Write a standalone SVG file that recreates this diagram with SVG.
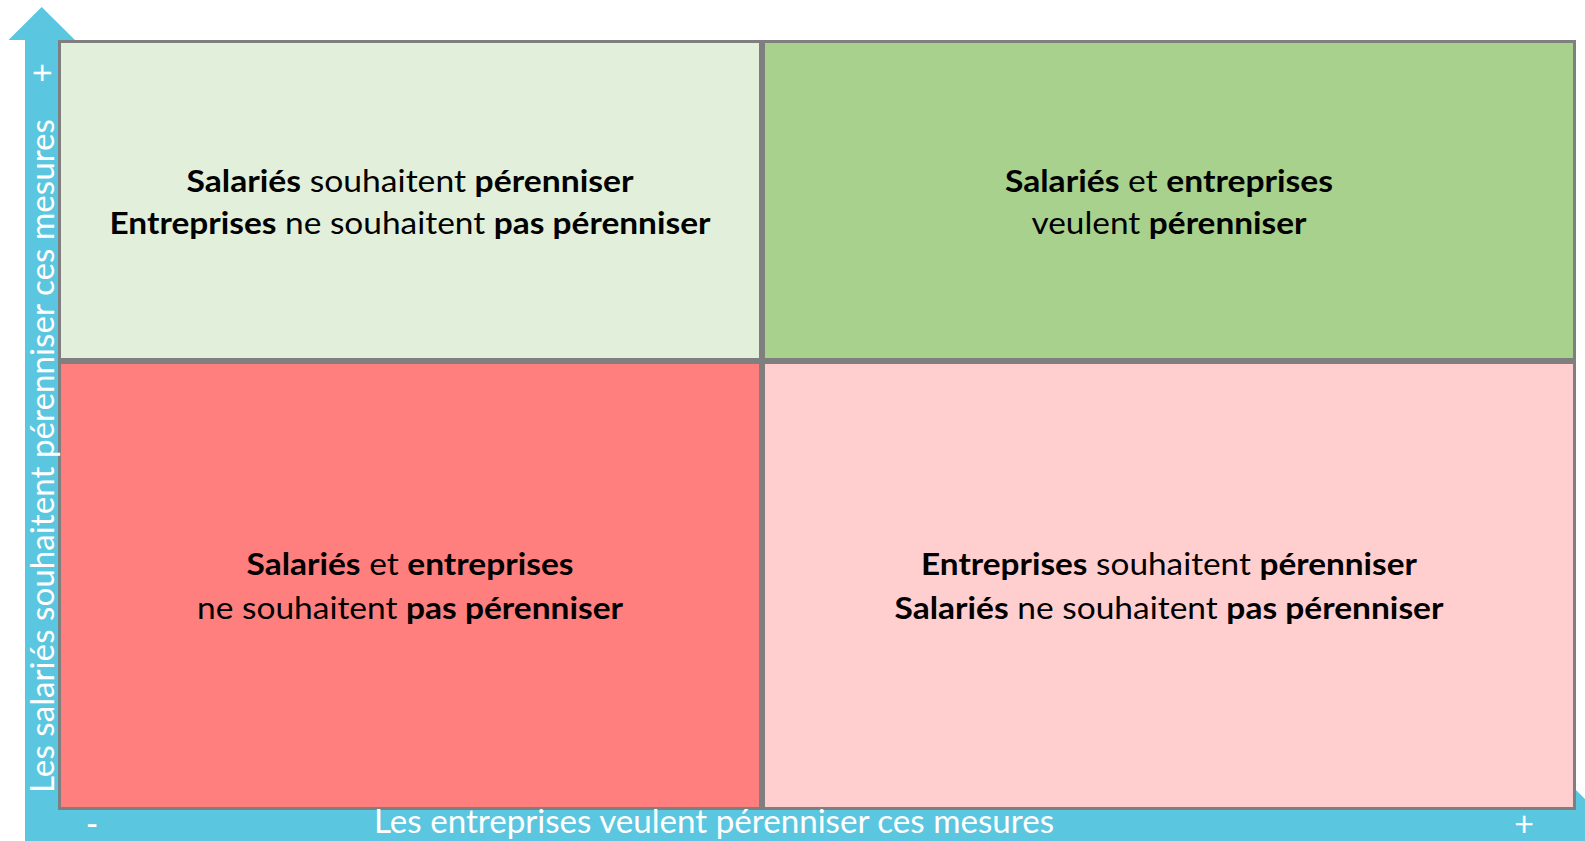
<svg xmlns="http://www.w3.org/2000/svg" width="1585" height="841" viewBox="0 0 1585 841">
<style>
.q{stroke:#7f7f7f;stroke-width:3}
.t{font-family:"Lato","Liberation Sans",sans-serif;font-size:30px;fill:#000;text-anchor:middle}
.b{font-weight:bold}
.ax{font-family:"Lato","Liberation Sans",sans-serif;font-size:32px;fill:#fff;font-weight:normal}
.sg{font-family:"Lato","Liberation Sans",sans-serif;font-size:34px;fill:#fff;text-anchor:middle}
.arr{fill:#5bc6e0}
</style>
<rect width="1585" height="841" fill="#fff"/>
<g id="axes">
<polygon class="arr" points="25,841 25,40 8.5,40 41.7,7 75,40 58,40 58,806 1575,806 1575,789 1608,822 1575,855 1575,841"/>
</g>
<g id="q-tl"><rect class="q" x="59.5" y="41.5" width="701" height="318" fill="#e2efda"/>
<text class="t" x="410" y="192" textLength="447" lengthAdjust="spacingAndGlyphs"><tspan class="b">Salariés</tspan> souhaitent <tspan class="b">pérenniser</tspan></text>
<text class="t" x="410" y="234" textLength="601" lengthAdjust="spacingAndGlyphs"><tspan class="b">Entreprises</tspan> ne souhaitent <tspan class="b">pas pérenniser</tspan></text></g>
<g id="q-tr"><rect class="q" x="763.5" y="41.5" width="811" height="318" fill="#a9d18e"/>
<text class="t" x="1169" y="192" textLength="328" lengthAdjust="spacingAndGlyphs"><tspan class="b">Salariés</tspan> et <tspan class="b">entreprises</tspan></text>
<text class="t" x="1169" y="234" textLength="275" lengthAdjust="spacingAndGlyphs">veulent <tspan class="b">pérenniser</tspan></text></g>
<g id="q-bl"><rect class="q" x="59.5" y="362.5" width="701" height="446" fill="#ff7f7f"/>
<text class="t" x="410" y="575" textLength="327" lengthAdjust="spacingAndGlyphs"><tspan class="b">Salariés</tspan> et <tspan class="b">entreprises</tspan></text>
<text class="t" x="410" y="619" textLength="426" lengthAdjust="spacingAndGlyphs">ne souhaitent <tspan class="b">pas pérenniser</tspan></text></g>
<g id="q-br"><rect class="q" x="763.5" y="362.5" width="811" height="446" fill="#ffcfcf"/>
<text class="t" x="1169" y="575" textLength="496" lengthAdjust="spacingAndGlyphs"><tspan class="b">Entreprises</tspan> souhaitent <tspan class="b">pérenniser</tspan></text>
<text class="t" x="1169" y="619" textLength="549" lengthAdjust="spacingAndGlyphs"><tspan class="b">Salariés</tspan> ne souhaitent <tspan class="b">pas pérenniser</tspan></text></g>
<g id="axis-labels">
<text class="ax" transform="translate(54,456) rotate(-90)" text-anchor="middle" textLength="674" lengthAdjust="spacingAndGlyphs">Les salariés souhaitent pérenniser ces mesures</text>
<text class="sg" transform="translate(54,73) rotate(-90)">+</text>
<text class="ax" x="714" y="833" text-anchor="middle" textLength="680" lengthAdjust="spacingAndGlyphs">Les entreprises veulent pérenniser ces mesures</text>
<text class="sg" x="92" y="836">-</text>
<text class="sg" x="1524" y="836">+</text>
</g>
</svg>
